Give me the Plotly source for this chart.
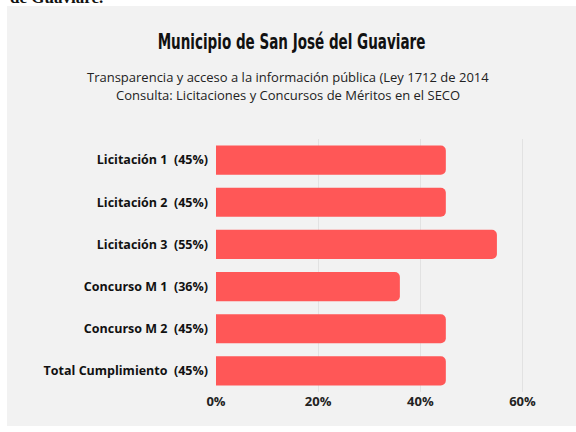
import plotly.graph_objects as go

categories = ["Licitación 1", "Licitación 2", "Licitación 3", "Concurso M 1", "Concurso M 2", "Total Cumplimiento"]
values = [45, 45, 55, 36, 45, 45]
x_ticks = [0, 20, 40, 60]
x_tick_labels = ["0%", "20%", "40%", "60%"]

labels = [f"{c}  ({v}%)" for c, v in zip(categories, values)]

W, H = 576, 432
ML, MR, MT, MB = 216, 51, 139, 40
PW, PH = W - ML - MR, H - MT - MB

def px(p):
    return (p - ML) / PW

def py(p):
    return (H - MB - p) / PH

fig = go.Figure(go.Bar(
    x=values, y=labels, orientation="h",
    marker=dict(color="#FF5757", cornerradius=5, line=dict(width=0)),
    hoverinfo="skip",
))

fig.update_layout(
    width=W, height=H,
    margin=dict(l=ML, r=MR, t=MT, b=MB, pad=0),
    paper_bgcolor="white", plot_bgcolor="rgba(0,0,0,0)",
    showlegend=False, bargap=0.31,
    title=dict(
        text="Municipio de San José del Guaviare",
        x=291.5 / W, xanchor="center", y=1 - 41 / H, yanchor="middle",
        font=dict(family="DejaVu Sans Condensed, Liberation Sans Narrow, Roboto", size=22, color="#111", weight=700),
    ),
    xaxis=dict(
        range=[0, 60.5], tickvals=x_ticks, ticktext=x_tick_labels,
        showgrid=True, gridcolor="#e2e2e2", gridwidth=1, zeroline=False,
        showline=False, ticks="",
        tickfont=dict(family="Open Sans", size=13, color="#222", weight=700),
    ),
    yaxis=dict(
        categoryorder="array", categoryarray=labels, autorange="reversed",
        showgrid=False, zeroline=False, showline=False, ticks="",
        ticklabelstandoff=7,
        tickfont=dict(family="Open Sans", size=12.5, color="#111", weight=700),
    ),
    shapes=[dict(
        type="rect", xref="paper", yref="paper",
        x0=px(7), x1=px(576), y0=py(426), y1=py(6),
        fillcolor="#f2f2f2", line=dict(width=0), layer="below",
    )],
    annotations=[
        dict(text="Transparencia y acceso a la información pública (Ley 1712 de 2014",
             xref="paper", yref="paper", x=px(288), y=py(77), xanchor="center", yanchor="middle",
             showarrow=False, font=dict(family="Open Sans", size=13, color="#222")),
        dict(text="Consulta: Licitaciones y Concursos de Méritos en el SECO",
             xref="paper", yref="paper", x=px(288), y=py(95), xanchor="center", yanchor="middle",
             showarrow=False, font=dict(family="Open Sans", size=13, color="#222")),
        dict(text="<b>de Guaviare.</b>",
             xref="paper", yref="paper", x=px(8), y=py(9), xanchor="left", yanchor="bottom",
             showarrow=False, font=dict(family="Liberation Serif", size=17, color="#111")),
    ],
)

post = """
document.body.style.margin='0';
var gd = document.getElementById('{plot_id}');
var t = gd.querySelector('.gtitle');
if (t) {
  var bb = t.getBBox();
  var cx = bb.x + bb.width / 2;
  var sx = 268 / bb.width;
  t.setAttribute('transform', 'translate(' + cx + ',0) scale(' + sx + ',1) translate(' + (-cx) + ',0)');
}
"""

fig.write_html("out.html", post_script=post, config={"displayModeBar": False})
